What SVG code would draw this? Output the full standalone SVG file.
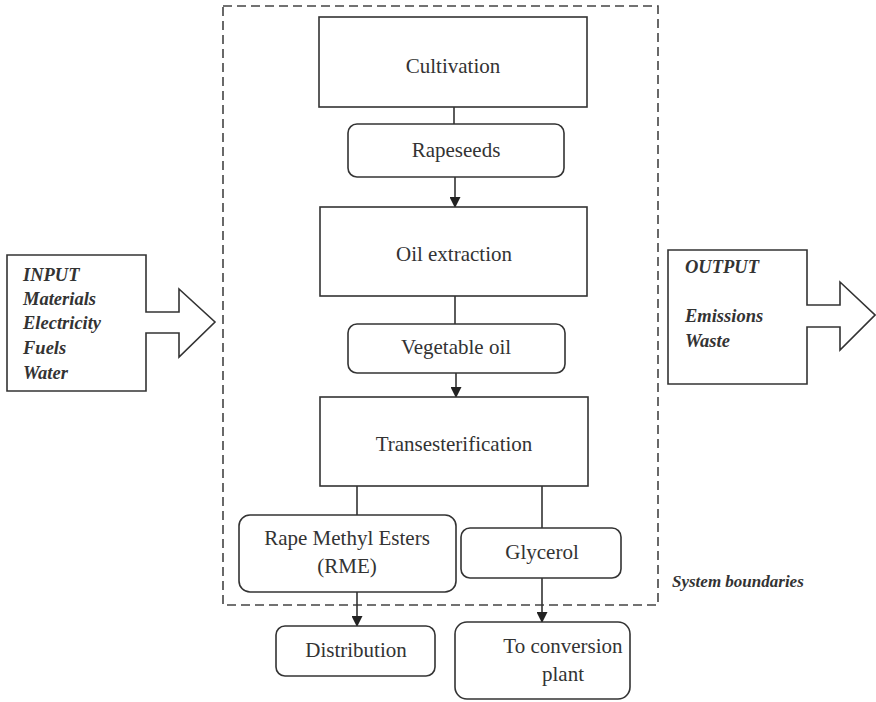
<svg xmlns="http://www.w3.org/2000/svg" width="876" height="702" viewBox="0 0 876 702">
<style>
.box{fill:#fff;stroke:#333;stroke-width:1.6}
.lbl{font-family:"Liberation Serif","Times New Roman",serif;font-size:21px;fill:#333;text-anchor:middle}
.it{font-family:"Liberation Serif","Times New Roman",serif;font-size:18.5px;font-style:italic;font-weight:bold;fill:#333}
.ln{stroke:#333;stroke-width:1.6;fill:none}
</style>
<defs>
<marker id="ah" markerWidth="11" markerHeight="11" refX="10" refY="5.5" orient="auto" markerUnits="userSpaceOnUse">
<path d="M0,0 L11,5.5 L0,11 Z" fill="#222"/>
</marker>
</defs>
<rect width="876" height="702" fill="#fff"/>
<g id="boundary">
<rect x="223" y="6" width="435" height="599" fill="none" stroke="#444" stroke-width="1.6" stroke-dasharray="9,5"/>
<text x="672" y="587" class="it" style="font-size:17px">System boundaries</text>
</g>
<g id="input">
<path class="box" d="M7,255 H146 V312 H179 V289 L215,322 L179,357 V333 H146 V391 H7 Z"/>
<text class="it" x="23" y="281">INPUT</text>
<text class="it" x="23" y="305">Materials</text>
<text class="it" x="23" y="329">Electricity</text>
<text class="it" x="23" y="354">Fuels</text>
<text class="it" x="23" y="379">Water</text>
</g>
<g id="output">
<path class="box" d="M668,250 H807 V305 H840 V282 L875,315 L840,350 V327 H807 V384 H668 Z"/>
<text class="it" x="685" y="273">OUTPUT</text>
<text class="it" x="685" y="322">Emissions</text>
<text class="it" x="685" y="347">Waste</text>
</g>
<g id="connectors">
<line class="ln" x1="454" y1="107" x2="454" y2="124"/>
<line class="ln" x1="455" y1="177" x2="455" y2="207" marker-end="url(#ah)"/>
<line class="ln" x1="455" y1="296" x2="455" y2="324"/>
<line class="ln" x1="456" y1="373" x2="456" y2="397" marker-end="url(#ah)"/>
<line class="ln" x1="357" y1="486" x2="357" y2="515"/>
<line class="ln" x1="542" y1="486" x2="542" y2="528"/>
<line class="ln" x1="357" y1="592" x2="357" y2="626" marker-end="url(#ah)"/>
<line class="ln" x1="542" y1="578" x2="542" y2="622" marker-end="url(#ah)"/>
</g>
<g id="cultivation">
<rect class="box" x="319" y="17" width="268" height="90"/>
<text class="lbl" x="453" y="73">Cultivation</text>
</g>
<g id="rapeseeds">
<rect class="box" x="348" y="124" width="216" height="53" rx="9"/>
<text class="lbl" x="456" y="157">Rapeseeds</text>
</g>
<g id="oil-extraction">
<rect class="box" x="320" y="207" width="267" height="89"/>
<text class="lbl" x="454" y="261">Oil extraction</text>
</g>
<g id="vegetable-oil">
<rect class="box" x="348" y="324" width="217" height="49" rx="9"/>
<text class="lbl" x="456" y="354">Vegetable oil</text>
</g>
<g id="transesterification">
<rect class="box" x="320" y="397" width="268" height="89"/>
<text class="lbl" x="454" y="451">Transesterification</text>
</g>
<g id="rme">
<rect class="box" x="239" y="515" width="217" height="77" rx="11"/>
<text class="lbl" x="347" y="545">Rape Methyl Esters</text>
<text class="lbl" x="347" y="573">(RME)</text>
</g>
<g id="glycerol">
<rect class="box" x="461" y="528" width="160" height="50" rx="9"/>
<text class="lbl" x="542" y="559">Glycerol</text>
</g>
<g id="distribution">
<rect class="box" x="276" y="626" width="159" height="50" rx="9"/>
<text class="lbl" x="356" y="657">Distribution</text>
</g>
<g id="conversion">
<rect class="box" x="455" y="622" width="175" height="77" rx="12"/>
<text class="lbl" x="563" y="653">To conversion</text>
<text class="lbl" x="563" y="681">plant</text>
</g>
</svg>
